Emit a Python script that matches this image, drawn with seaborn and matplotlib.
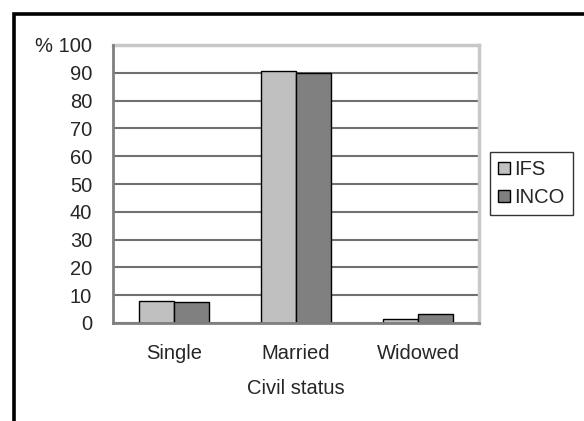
import matplotlib
matplotlib.use("Agg")
import matplotlib.pyplot as plt
import seaborn as sns
import pandas as pd
from matplotlib.patches import Rectangle, Patch

categories = ["Single", "Married", "Widowed"]
ifs_values = [7.9, 90.8, 1.5]
inco_values = [7.4, 89.8, 3.2]
series_names = ["IFS", "INCO"]
y_ticks = [0, 10, 20, 30, 40, 50, 60, 70, 80, 90, 100]
x_label = "Civil status"
y_unit = "%"

sns.set_style("white")
plt.rcParams['font.family'] = ['Liberation Sans', 'DejaVu Sans']
FS = 14.5

df = pd.DataFrame({
    "cat": categories * 2,
    "val": ifs_values + inco_values,
    "series": [series_names[0]] * 3 + [series_names[1]] * 3,
})

W, H = 584, 421
fig = plt.figure(figsize=(W / 100, H / 100), dpi=100)
ax = fig.add_axes([113 / W, 1 - 323 / H, 366 / W, 278 / H])

sns.barplot(data=df, x="cat", y="val", hue="series", order=categories,
            hue_order=series_names,
            palette={"IFS": "#c0c0c0", "INCO": "#808080"},
            width=0.574, edgecolor="black", linewidth=1.0,
            saturation=1, ax=ax, legend=False, zorder=3)

ax.set_xlim(-0.5, 2.5)
ax.set_ylim(0, 100)
ax.set_yticks(y_ticks)
labels = [str(v) for v in y_ticks]
labels[-1] = y_unit + " " + labels[-1]
ax.set_yticklabels(labels, fontsize=FS)
ax.yaxis.grid(True, color="#707070", linewidth=1.5, zorder=0)
ax.set_axisbelow(True)

ax.set_xticks(range(len(categories)))
ax.set_xticklabels(categories, fontsize=FS)
ax.set_xticks([-0.5, 0.5, 1.5, 2.5], minor=True)
ax.tick_params(axis="x", which="major", length=0, pad=15)
ax.tick_params(axis="x", which="minor", length=6, width=1.2, color="black", direction="out")
ax.tick_params(axis="y", which="major", length=6, width=1.2, color="black", direction="out", pad=9)
ax.set_xlabel(x_label, fontsize=FS, labelpad=12)
ax.set_ylabel("")

for s in ["top", "right"]:
    ax.spines[s].set_color("#c8c8c8")
    ax.spines[s].set_linewidth(2.5)
for s in ["left", "bottom"]:
    ax.spines[s].set_color("#808080")
    ax.spines[s].set_linewidth(2.0)
    ax.spines[s].set_zorder(4)

handles = [Patch(facecolor="#c0c0c0", edgecolor="black", linewidth=1.0, label=series_names[0]),
           Patch(facecolor="#808080", edgecolor="black", linewidth=1.0, label=series_names[1])]
leg = fig.legend(handles=handles, loc="upper left",
                 bbox_to_anchor=(490 / W, 1 - 152 / H), borderaxespad=0,
                 fontsize=FS, frameon=True, fancybox=False,
                 handlelength=0.6, handleheight=0.6, handletextpad=0.2,
                 labelspacing=0.45, borderpad=0.4)
leg.get_frame().set_edgecolor("black")
leg.get_frame().set_linewidth(1.0)

# outer thick border (chart area frame, cropped at right & bottom)
fig.patches.append(Rectangle((13.5 / W, -0.1), 1.2, 1 - 13.5 / H + 0.1,
                             transform=fig.transFigure, fill=False,
                             edgecolor="black", linewidth=2.6, zorder=10))

fig.savefig("out.png", dpi=100)
